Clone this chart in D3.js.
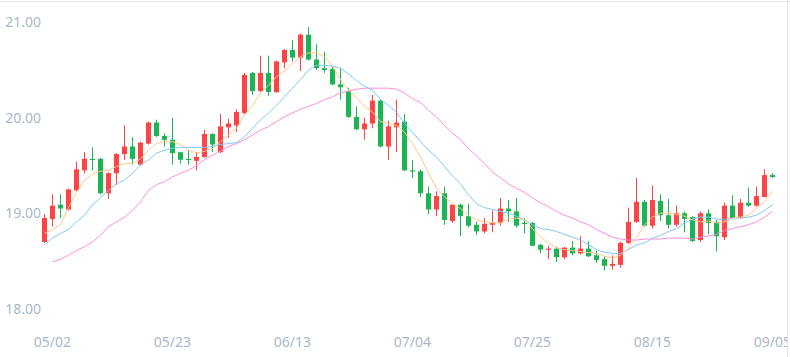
<!DOCTYPE html>
<html><head><meta charset="utf-8">
<script src="https://cdn.jsdelivr.net/npm/d3@7"></script>
<style>html,body{margin:0;padding:0;background:#fff;overflow:hidden}</style>
</head><body>
<svg id="c" width="790" height="357"></svg>
<script>
const dates = ["05/01","05/02","05/03","05/04","05/05","05/08","05/09","05/10","05/11","05/12",
"05/15","05/16","05/17","05/18","05/19","05/22","05/23","05/24","05/25","05/26",
"05/29","05/30","05/31","06/01","06/02","06/05","06/06","06/07","06/08","06/09",
"06/12","06/13","06/14","06/15","06/16","06/19","06/20","06/21","06/22","06/23",
"06/26","06/27","06/28","06/29","06/30","07/03","07/04","07/05","07/06","07/07",
"07/10","07/11","07/12","07/13","07/14","07/17","07/18","07/19","07/20","07/21",
"07/24","07/25","07/26","07/27","07/28","07/31","08/01","08/02","08/03","08/04",
"08/07","08/08","08/09","08/10","08/11","08/14","08/15","08/16","08/17","08/18",
"08/21","08/22","08/23","08/24","08/25","08/28","08/29","08/30","08/31","09/01",
"09/04","09/05"];
const opens = [18.70,18.94,19.09,19.04,19.24,19.45,19.57,19.57,19.21,19.42,
19.62,19.70,19.51,19.73,19.95,19.81,19.77,19.64,19.57,19.55,
19.59,19.83,19.64,19.90,19.92,20.05,20.47,20.28,20.47,20.27,
20.58,20.71,20.63,20.87,20.61,20.52,20.51,20.35,20.28,20.01,
19.88,19.94,20.18,19.70,19.90,19.96,19.45,19.44,19.21,19.04,
19.21,18.92,19.09,18.97,18.88,18.81,18.88,18.90,19.05,19.02,
18.90,18.90,18.67,18.62,18.63,18.54,18.64,18.58,18.63,18.56,
18.52,18.45,18.46,18.69,18.91,19.12,18.87,19.13,18.98,18.88,
19.00,18.96,18.72,19.00,18.91,18.75,19.08,18.95,19.11,19.08,
19.17,19.40];
const highs = [18.99,19.20,19.20,19.26,19.54,19.64,19.69,19.58,19.43,19.63,
19.92,19.80,19.75,19.96,19.98,19.84,20.00,19.64,19.66,19.64,
19.87,19.84,20.04,19.99,20.09,20.47,20.48,20.65,20.65,20.60,
20.72,20.81,20.88,20.95,20.77,20.69,20.54,20.52,20.31,20.12,
20.00,20.24,20.19,19.97,20.19,20.04,19.56,19.46,19.28,19.23,
19.28,19.09,19.10,19.10,18.91,18.95,19.03,19.16,19.14,19.16,
18.95,18.91,18.68,18.66,18.65,18.65,18.71,18.76,18.71,18.61,
18.55,18.56,18.70,19.06,19.37,19.14,19.29,19.20,19.15,19.08,
19.02,18.97,19.02,19.04,18.93,19.11,19.19,19.15,19.27,19.28,
19.46,19.42];
const lows = [18.69,18.86,18.95,19.03,19.23,19.42,19.45,19.20,19.15,19.30,
19.56,19.51,19.50,19.72,19.80,19.70,19.51,19.52,19.51,19.45,
19.58,19.64,19.63,19.79,19.85,20.04,20.24,20.27,20.23,20.26,
20.52,20.59,20.49,20.60,20.50,20.47,20.34,20.19,20.00,19.87,
19.77,19.89,19.69,19.56,19.64,19.44,19.37,19.17,18.99,18.97,
18.88,18.90,18.76,18.85,18.77,18.79,18.80,18.87,18.91,18.85,
18.79,18.66,18.58,18.52,18.49,18.52,18.56,18.57,18.54,18.48,
18.40,18.41,18.43,18.68,18.90,18.86,18.84,18.92,18.84,18.86,
18.80,18.70,18.70,18.78,18.60,18.72,18.94,18.94,19.07,19.07,
19.17,19.37];
const closes = [18.95,19.08,19.05,19.25,19.46,19.57,19.56,19.21,19.42,19.62,
19.70,19.57,19.74,19.95,19.81,19.77,19.63,19.56,19.56,19.59,
19.83,19.72,19.91,19.94,20.06,20.45,20.28,20.47,20.27,20.59,
20.71,20.63,20.87,20.61,20.52,20.50,20.35,20.32,20.01,19.88,
19.94,20.18,19.70,19.91,19.95,19.45,19.44,19.21,19.04,19.18,
18.93,19.09,18.97,18.87,18.81,18.89,18.90,19.05,19.02,18.87,
18.89,18.66,18.62,18.63,18.54,18.64,18.58,18.63,18.55,18.51,
18.45,18.47,18.69,18.91,19.12,18.87,19.14,18.98,18.88,19.00,
18.94,18.71,19.00,18.90,18.76,19.08,18.95,19.11,19.08,19.18,
19.40,19.38];
const ma5 = [18.79,18.83,18.88,19.06,19.22,19.35,19.41,19.44,19.45,19.49,
19.52,19.52,19.57,19.66,19.73,19.75,19.75,19.72,19.66,19.63,
19.65,19.68,19.75,19.82,19.89,20.03,20.13,20.26,20.34,20.43,
20.49,20.57,20.64,20.68,20.68,20.64,20.54,20.40,20.29,20.21,
20.12,20.06,19.96,19.94,19.92,19.85,19.73,19.59,19.42,19.26,
19.17,19.10,19.05,18.98,18.93,18.91,18.90,18.90,18.94,18.95,
18.93,18.84,18.75,18.69,18.64,18.62,18.61,18.60,18.59,18.58,
18.55,18.53,18.56,18.63,18.75,18.88,18.96,19.00,19.00,18.99,
18.97,18.93,18.91,18.92,18.90,18.91,18.95,18.96,18.98,19.05,
19.12,19.23];
const ma10 = [18.67,18.74,18.79,18.83,18.91,18.98,19.09,19.16,19.24,19.31,
19.35,19.42,19.51,19.56,19.63,19.66,19.68,19.69,19.69,19.69,
19.69,19.70,19.72,19.73,19.74,19.80,19.89,19.98,20.05,20.13,
20.22,20.31,20.40,20.50,20.55,20.55,20.54,20.52,20.46,20.39,
20.33,20.29,20.19,20.13,20.06,19.94,19.85,19.75,19.66,19.59,
19.49,19.39,19.31,19.19,19.10,19.06,19.04,19.02,19.00,18.97,
18.93,18.88,18.84,18.83,18.81,18.78,18.75,18.72,18.67,18.62,
18.59,18.58,18.58,18.62,18.67,18.69,18.74,18.77,18.81,18.84,
18.90,18.94,18.96,18.96,18.94,18.93,18.95,18.95,18.96,18.98,
19.03,19.09];
const ma20 = [null,18.49,18.52,18.56,18.61,18.65,18.70,18.77,18.86,18.91,
18.96,19.03,19.12,19.24,19.30,19.33,19.38,19.42,19.45,19.50,
19.56,19.61,19.65,19.70,19.73,19.77,19.82,19.87,19.91,19.96,
20.01,20.05,20.09,20.12,20.15,20.19,20.22,20.26,20.28,20.30,
20.31,20.31,20.31,20.31,20.30,20.26,20.20,20.16,20.08,20.01,
19.92,19.84,19.77,19.68,19.60,19.52,19.43,19.37,19.31,19.26,
19.22,19.16,19.11,19.07,19.02,18.98,18.95,18.91,18.88,18.83,
18.79,18.75,18.73,18.72,18.72,18.73,18.73,18.73,18.74,18.74,
18.74,18.73,18.75,18.76,18.78,18.82,18.84,18.86,18.88,18.91,
18.96,19.02];
const xTickLabels = ["05/02","05/23","06/13","07/04","07/25","08/15","09/05"];
const yTickValues = [18, 19, 20, 21];

const UP = "#fd4444", DOWN = "#1db453";
const svg = d3.select("#c");
const x = d3.scaleBand().domain(dates).range([40.3, 776.3]).padding(0);
const y = d3.scaleLinear().domain([18, 21]).range([308.8, 22.3]);
const cx = d => Math.round(x(d) + x.bandwidth() / 2);

svg.append("rect").attr("width", 790).attr("height", 357).attr("fill", "#fff");

// y axis
svg.append("g").attr("transform", "translate(41,0)")
  .call(d3.axisLeft(y).tickValues(yTickValues).tickFormat(d3.format(".2f")).tickSize(0).tickPadding(0))
  .call(g => g.select(".domain").remove())
  .selectAll("text").attr("fill", "#abb7cb").style("font", "14px 'Noto Sans', sans-serif");

// x axis
const xa = svg.append("g").attr("transform", "translate(0,342)")
  .call(d3.axisBottom(x).tickValues(xTickLabels).tickSize(0).tickPadding(0))
  .call(g => g.select(".domain").remove());
xa.selectAll("text").attr("y", 0).attr("dy", "0.35em").attr("fill", "#abb7cb")
  .style("font", "14px 'Noto Sans', sans-serif");

// candles
const idx = d3.range(dates.length);
const cg = svg.append("g");
idx.forEach(i => {
  const up = closes[i] >= opens[i];
  const col = up ? UP : DOWN;
  const c = cx(dates[i]);
  cg.append("line").attr("x1", c + 0.5).attr("x2", c + 0.5)
    .attr("y1", y(highs[i])).attr("y2", y(lows[i]))
    .attr("stroke", col).attr("stroke-width", 1);
  const top = y(Math.max(opens[i], closes[i])), bot = y(Math.min(opens[i], closes[i]));
  cg.append("rect").attr("x", c - 2).attr("width", 5)
    .attr("y", top).attr("height", Math.max(1.2, bot - top)).attr("fill", col);
});

// moving averages
const mk = arr => d3.line().defined(v => v != null)
  .x((v, i) => cx(dates[i]) + 0.5).y(v => y(v))(arr);
[[ma20, "#fc8fda"], [ma10, "#80c8f7"], [ma5, "#fec98f"]].forEach(([arr, col]) => {
  svg.append("path").attr("d", mk(arr)).attr("fill", "none")
    .attr("stroke", col).attr("stroke-width", 1);
});

// frame edges
svg.append("rect").attr("x", 787).attr("y", 0).attr("width", 3).attr("height", 357).attr("fill", "#fff");
svg.append("line").attr("x1", 0).attr("x2", 790).attr("y1", 1.5).attr("y2", 1.5).attr("stroke", "#e6e6e6");
svg.append("line").attr("x1", 787.5).attr("x2", 787.5).attr("y1", 0).attr("y2", 357).attr("stroke", "#e2e2e2");
</script>
</body></html>
